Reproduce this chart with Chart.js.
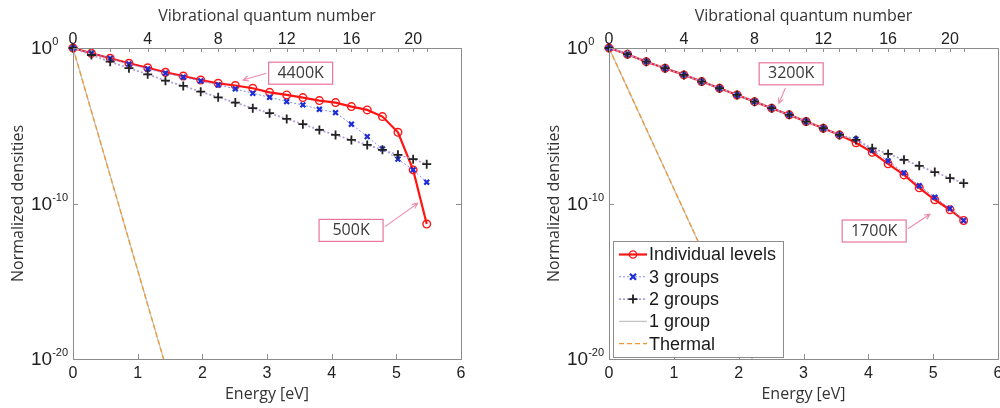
<!DOCTYPE html>
<html>
<head>
<meta charset="utf-8">
<script src="https://cdn.jsdelivr.net/npm/chart.js@4.4.0/dist/chart.umd.min.js"></script>
<style>
html, body { margin: 0; padding: 0; background: #fff; overflow: hidden; }
#wrap { position: relative; width: 1000px; height: 408px; overflow: hidden; }
.panel { position: absolute; top: 0; height: 408px; }
</style>
</head>
<body>
<div id="wrap">
  <div class="panel" style="left:0;width:500px"><canvas id="leftChart" width="500" height="408"></canvas></div>
  <div class="panel" style="left:500px;width:510px"><canvas id="rightChart" width="510" height="408"></canvas></div>
</div>
<script>
const levelEnergy = [0, 0.285, 0.575, 0.865, 1.155, 1.43, 1.705, 1.975, 2.245, 2.51, 2.78,
                     3.04, 3.305, 3.555, 3.81, 4.06, 4.305, 4.55, 4.785, 5.025, 5.26, 5.47];
const energyTicks = [0, 1, 2, 3, 4, 5, 6];
const levelLabelEvery = 4;
const densityTicks = [0, -10, -20];   // exponents of the y ticks

// log10 of normalized densities, per level
const leftIndividual = [0, -0.34, -0.66, -0.98, -1.27, -1.56, -1.80, -2.06, -2.27, -2.41, -2.59,
                        -2.85, -3.02, -3.19, -3.38, -3.51, -3.77, -3.98, -4.41, -5.42, -7.84, -11.32];
const leftGroups3 = [0, -0.34, -0.67, -1.03, -1.35, -1.62, -1.88, -2.12, -2.38, -2.63, -2.91,
                     -3.17, -3.45, -3.66, -3.94, -4.16, -4.90, -5.70, -6.49, -7.15, -7.84, -8.63];
const leftGroups2 = [0, -0.45, -0.88, -1.30, -1.69, -2.10, -2.44, -2.81, -3.17, -3.51, -3.87,
                     -4.19, -4.56, -4.90, -5.27, -5.59, -5.91, -6.23, -6.55, -6.87, -7.15, -7.47];
const leftThermal = [0, -4.07, -8.21, -12.36, -16.5, -20.42];

const rightIndividual = [0, -0.40, -0.88, -1.30, -1.73, -2.16, -2.59, -3.02, -3.45, -3.87, -4.30,
                         -4.73, -5.16, -5.59, -6.09, -6.71, -7.45, -8.16, -8.99, -9.76, -10.40, -11.09];
const rightGroups3 = [0, -0.40, -0.88, -1.30, -1.73, -2.16, -2.59, -3.02, -3.45, -3.87, -4.30,
                      -4.73, -5.16, -5.59, -5.86, -6.58, -7.26, -8.03, -8.86, -9.60, -10.32, -11.09];
const rightGroups2 = [0, -0.40, -0.88, -1.30, -1.73, -2.16, -2.59, -3.02, -3.45, -3.87, -4.30,
                      -4.73, -5.16, -5.59, -5.91, -6.45, -6.81, -7.19, -7.58, -7.98, -8.37, -8.69];
const rightThermal = [0, -2.58, -5.20, -7.83, -10.45, -12.94, -15.43, -17.87, -20.32];

// temperature callouts: box centre, arrow start, arrow tip in [energy, log10 density]
const leftNotes = [
  { text: '4400K', at: [3.52, -1.62], from: [2.99, -1.62], to: [2.63, -2.06] },
  { text: '500K',  at: [4.30, -11.73], from: [4.82, -11.50], to: [5.33, -9.99] }
];
const rightNotes = [
  { text: '3200K', at: [2.81, -1.66], from: [2.72, -2.57], to: [2.62, -3.56] },
  { text: '1700K', at: [4.09, -11.77], from: [4.61, -11.62], to: [4.95, -10.69] }
];

Chart.defaults.font.family = '"Liberation Sans", Arial, sans-serif';
Chart.defaults.color = '#222';

const titleFont = { family: '"Open Sans", sans-serif', size: 16 };
const tickFont = { family: '"Liberation Sans", Arial, sans-serif', size: 16 };

function series(vals){ return vals.map((v, i) => ({ x: levelEnergy[i], y: Math.pow(10, v) })); }

const markClip = { left: 8, top: 8, right: 0, bottom: 0 };

function makeDatasets(ind, g3, g2, thermal){
  return [
    { label: 'Individual levels', data: series(ind), borderColor: '#ff1414', borderWidth: 2.2,
      pointStyle: 'circle', pointRadius: 3.8, pointBorderWidth: 1.4, pointBorderColor: '#ff1414',
      pointBackgroundColor: 'rgba(255,255,255,0)', order: 3, clip: markClip },
    { label: '3 groups', data: series(g3), borderColor: '#7d90ee', borderWidth: 1, borderDash: [2, 2],
      pointStyle: 'crossRot', pointRadius: 3.4, pointBorderWidth: 2.2, pointBorderColor: '#1e2ed6',
      order: 2, clip: markClip },
    { label: '2 groups', data: series(g2), borderColor: '#b29ed6', borderWidth: 1.8, borderDash: [2, 2],
      pointStyle: 'cross', pointRadius: 4.5, pointBorderWidth: 1.8, pointBorderColor: '#222',
      order: 1, clip: markClip },
    // the 1-group curve lies on the thermal one
    { label: '1 group', data: series(thermal), borderColor: '#c4c4c4', borderWidth: 1.3,
      pointRadius: 0, order: 5, clip: 0 },
    { label: 'Thermal', data: series(thermal), borderColor: '#f2982c', borderWidth: 1.3, borderDash: [5, 3],
      pointRadius: 0, order: 4, clip: 0 }
  ];
}

const frame = {
  id: 'frame',
  afterDatasetsDraw(chart){
    const { ctx, chartArea: a, scales } = chart;
    ctx.save();
    ctx.strokeStyle = '#8c8c8c';
    ctx.lineWidth = 1;
    ctx.strokeRect(Math.round(a.left) + 0.5, Math.round(a.top) + 0.5, Math.round(a.right - a.left), Math.round(a.bottom - a.top));
    ctx.beginPath();
    scales.x.ticks.forEach(t => {
      const px = Math.round(scales.x.getPixelForValue(t.value)) + 0.5;
      ctx.moveTo(px, a.bottom); ctx.lineTo(px, a.bottom - 5);
    });
    scales.top.ticks.forEach(t => {
      const px = Math.round(scales.top.getPixelForValue(t.value)) + 0.5;
      ctx.moveTo(px, a.top); ctx.lineTo(px, a.top + 4);
    });
    densityTicks.forEach(e => {
      const py = Math.round(scales.y.getPixelForValue(Math.pow(10, e))) + 0.5;
      ctx.moveTo(a.left, py); ctx.lineTo(a.left + 5, py);
      ctx.moveTo(a.right, py); ctx.lineTo(a.right - 5, py);
    });
    ctx.stroke();

    // y tick labels as 10 with a raised exponent
    ctx.fillStyle = '#222';
    densityTicks.forEach(e => {
      const py = scales.y.getPixelForValue(Math.pow(10, e));
      const x0 = a.left - 42;
      ctx.font = '19px "Liberation Sans", Arial, sans-serif';
      ctx.textAlign = 'left';
      ctx.textBaseline = 'middle';
      ctx.fillText('10', x0, py + 1);
      const w = ctx.measureText('10').width;
      ctx.font = '11px "Liberation Sans", Arial, sans-serif';
      ctx.textBaseline = 'alphabetic';
      ctx.fillText(e === 0 ? '0' : '-' + Math.abs(e), x0 + w, py - 3);
    });
    ctx.restore();
  }
};

const callouts = {
  id: 'callouts',
  afterDraw(chart, args, opts){
    const { ctx, scales } = chart;
    const px = p => [scales.x.getPixelForValue(p[0]), scales.y.getPixelForValue(Math.pow(10, p[1]))];
    ctx.save();
    (opts.notes || []).forEach(n => {
      const [cx, cy] = px(n.at);
      ctx.fillStyle = '#fff';
      ctx.fillRect(cx - 32, cy - 11, 64, 22);
      ctx.strokeStyle = '#e8759a';
      ctx.lineWidth = 1.2;
      ctx.strokeRect(cx - 32, cy - 11, 64, 22);
      ctx.fillStyle = '#3a3a3a';
      ctx.font = '16px "Open Sans", sans-serif';
      ctx.textAlign = 'center';
      ctx.textBaseline = 'middle';
      ctx.fillText(n.text, cx, cy);

      const [x1, y1] = px(n.from);
      const [x2, y2] = px(n.to);
      const ang = Math.atan2(y2 - y1, x2 - x1);
      ctx.strokeStyle = '#ee8aa8';
      ctx.lineWidth = 1.1;
      ctx.beginPath();
      ctx.moveTo(x1, y1); ctx.lineTo(x2, y2);
      ctx.moveTo(x2 - 6 * Math.cos(ang - 0.45), y2 - 6 * Math.sin(ang - 0.45));
      ctx.lineTo(x2, y2);
      ctx.lineTo(x2 - 6 * Math.cos(ang + 0.45), y2 - 6 * Math.sin(ang + 0.45));
      ctx.stroke();
    });
    ctx.restore();
  }
};

function drawMarker(ctx, style, x, y){
  ctx.beginPath();
  if(style === 'circle'){ ctx.arc(x, y, 3.6, 0, Math.PI * 2); }
  else if(style === 'crossRot'){ ctx.moveTo(x - 3, y - 3); ctx.lineTo(x + 3, y + 3); ctx.moveTo(x + 3, y - 3); ctx.lineTo(x - 3, y + 3); }
  else if(style === 'cross'){ ctx.moveTo(x - 4.5, y); ctx.lineTo(x + 4.5, y); ctx.moveTo(x, y - 4.5); ctx.lineTo(x, y + 4.5); }
  ctx.stroke();
}

const legendBox = {
  id: 'legendBox',
  afterDraw(chart, args, opts){
    if(!opts.show) return;
    const { ctx, chartArea: a } = chart;
    const left = a.left + 4, top = a.bottom - 118, w = 170, h = 116;
    ctx.save();
    ctx.fillStyle = '#fff';
    ctx.fillRect(left, top, w, h);
    ctx.strokeStyle = '#8c8c8c';
    ctx.lineWidth = 1;
    ctx.strokeRect(Math.round(left) + 0.5, Math.round(top) + 0.5, w, h);
    chart.data.datasets.forEach((d, i) => {
      const y = top + 13.5 + i * 22.3;
      ctx.strokeStyle = d.borderColor;
      ctx.lineWidth = d.borderWidth;
      ctx.setLineDash(d.borderDash || []);
      ctx.beginPath();
      ctx.moveTo(left + 6, y); ctx.lineTo(left + 34, y);
      ctx.stroke();
      ctx.setLineDash([]);
      if(d.pointRadius){
        ctx.strokeStyle = d.pointBorderColor;
        ctx.lineWidth = d.pointBorderWidth;
        drawMarker(ctx, d.pointStyle, left + 20, y);
      }
      ctx.fillStyle = '#1a1a1a';
      ctx.font = '18px "Liberation Sans", Arial, sans-serif';
      ctx.textAlign = 'left';
      ctx.textBaseline = 'middle';
      ctx.fillText(d.label, left + 36, y + 1);
    });
    ctx.restore();
  }
};

function makeChart(id, sets, notes, yWidth, yTitlePad, padRight, showLegend){
  return new Chart(document.getElementById(id), {
    type: 'scatter',
    data: { datasets: sets },
    plugins: [frame, callouts, legendBox],
    options: {
      responsive: false,
      animation: false,
      showLine: true,
      layout: { padding: { left: 0, right: padRight, top: 0, bottom: 0 } },
      elements: { line: { tension: 0 } },
      plugins: {
        legend: { display: false },
        tooltip: { enabled: false },
        callouts: { notes: notes },
        legendBox: { show: showLegend }
      },
      scales: {
        x: {
          type: 'linear', position: 'bottom', min: 0, max: 6,
          afterBuildTicks: s => { s.ticks = energyTicks.map(v => ({ value: v })); },
          grid: { display: false, drawTicks: false }, border: { display: false },
          ticks: { font: tickFont, color: '#222', padding: 5, maxRotation: 0, autoSkip: false },
          title: { display: true, text: 'Energy [eV]', font: titleFont, color: '#333', padding: { top: 0, bottom: 4 } },
          afterFit: s => { s.height = 49; s.paddingLeft = 0; s.paddingRight = 0; }
        },
        top: {
          type: 'linear', position: 'top', min: 0, max: 6,
          afterBuildTicks: s => { s.ticks = levelEnergy.map(v => ({ value: v })); },
          grid: { display: false, drawTicks: false }, border: { display: false },
          ticks: { font: tickFont, color: '#222', padding: -1, maxRotation: 0, autoSkip: false,
                   callback: (v, i) => i % levelLabelEvery === 0 ? String(i) : '' },
          title: { display: true, text: 'Vibrational quantum number', font: titleFont, color: '#333', padding: { top: 7, bottom: 0 } },
          afterFit: s => { s.height = 48; s.paddingLeft = 0; s.paddingRight = 0; }
        },
        y: {
          type: 'logarithmic', position: 'left', min: 1e-20, max: 1,
          grid: { display: false, drawTicks: false }, border: { display: false },
          ticks: { display: false },
          title: { display: true, text: 'Normalized densities', font: titleFont, color: '#333', padding: { top: yTitlePad, bottom: 0 } },
          afterFit: s => { s.width = yWidth; s.paddingTop = 0; s.paddingBottom = 0; }
        }
      }
    }
  });
}

makeChart('leftChart', makeDatasets(leftIndividual, leftGroups3, leftGroups2, leftThermal), leftNotes, 73, 9, 39, false);
makeChart('rightChart', makeDatasets(rightIndividual, rightGroups3, rightGroups2, rightThermal), rightNotes, 109, 45, 12, true);
</script>
</body>
</html>
